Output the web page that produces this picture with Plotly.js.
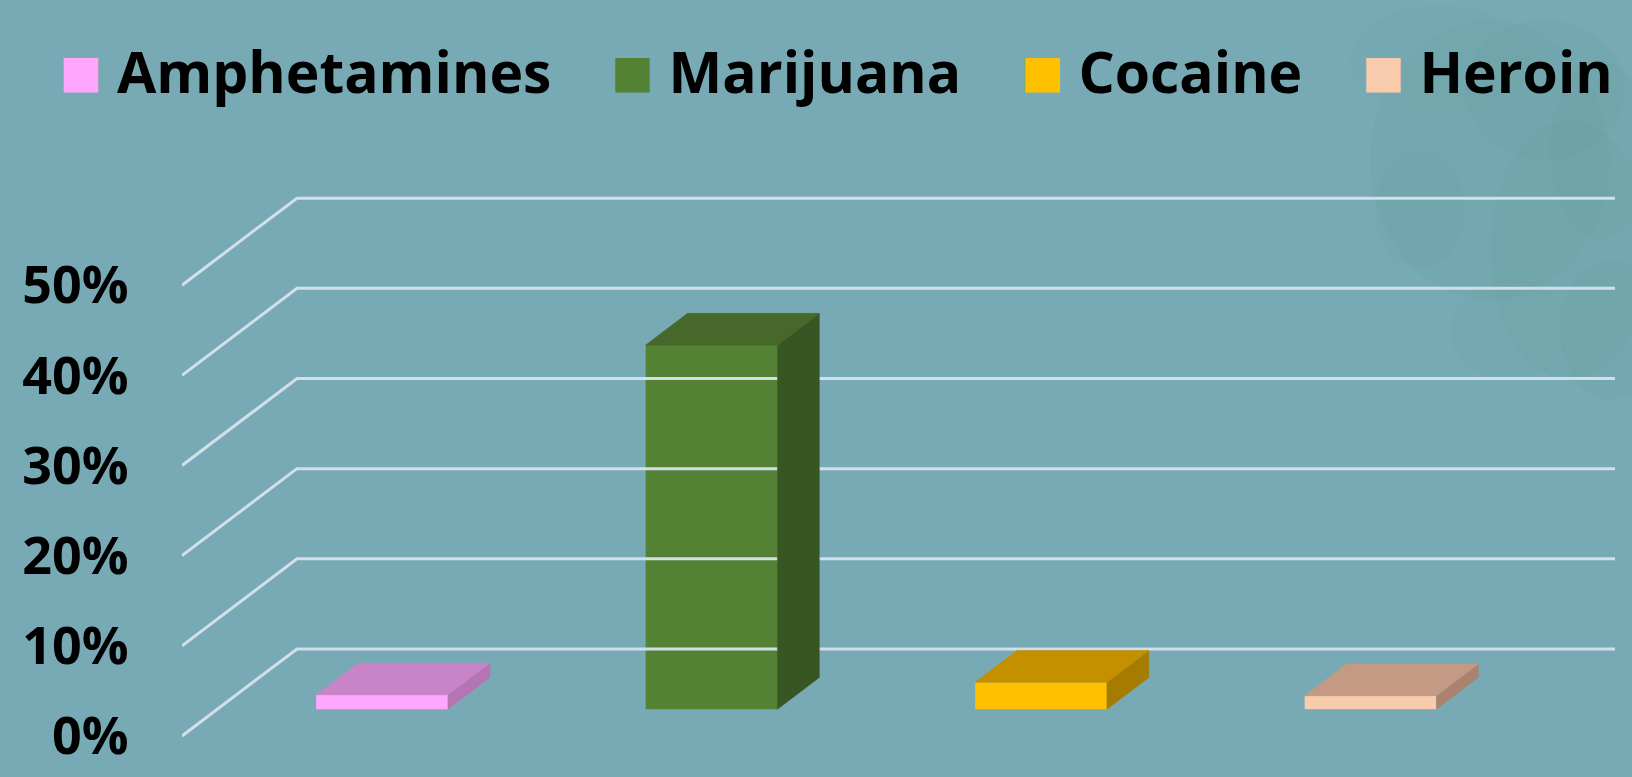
<!DOCTYPE html>
<html>
<head>
<meta charset="utf-8">
<script src="https://cdn.plot.ly/plotly-3.0.1.min.js"></script>
<style>
  html, body { margin: 0; padding: 0; background: #77AAB4; }
  #chart { width: 1632px; height: 777px; }
</style>
</head>
<body>
<div id="chart"></div>
<script>
// ---- data ----
const categories = ['Amphetamines', 'Marijuana', 'Cocaine', 'Heroin'];
const values = [1.6, 40.4, 3.0, 1.5];            // percent
const frontColors = ['#FFA6FF', '#548235', '#FFC000', '#F8CBAD'];
const topColors   = ['#C984C8', '#46692B', '#C49000', '#C49A84'];
const sideColors  = ['#B574B4', '#375623', '#A67C00', '#A9836F'];
const yTickVals = [0, 10, 20, 30, 40, 50];
const yTickLabels = ['0%', '10%', '20%', '30%', '40%', '50%'];

// ---- 3D projection settings (in axis units) ----
const DX = 0.349;      // depth offset along x (category units)
const DY = 9.65;       // depth offset along y (percent units)
const D0 = 0.307;      // bar front depth fraction
const DS = 0.364;      // bar depth fraction
const BARW = 0.4;      // bar width (category units)
const n = categories.length;

const W = 1632, H = 777;
const M = { l: 182, r: 0, t: 177, b: 5 };

const traces = [];

// grid (floor + back wall) lines
const gx = [], gy = [];
yTickVals.forEach(v => {
  gx.push(-0.5, -0.5 + DX, n - 0.5 + DX, null);
  gy.push(v, v + DY, v + DY, null);
});
traces.push({
  type: 'scatter', mode: 'lines', x: gx, y: gy,
  line: { color: '#D3DFE8', width: 3 },
  hoverinfo: 'skip', showlegend: false
});

categories.forEach((c, i) => {
  const xc = i + D0 * DX;
  const x0 = xc - BARW / 2, x1 = xc + BARW / 2;
  const b0 = D0 * DY;
  const top = b0 + values[i];
  const ox = DS * DX, oy = DS * DY;
  // side face
  traces.push({
    type: 'scatter', mode: 'lines', fill: 'toself',
    x: [x1, x1, x1 + ox, x1 + ox, x1],
    y: [b0, top, top + oy, b0 + oy, b0],
    fillcolor: sideColors[i], line: { color: sideColors[i], width: 0.5 },
    hoverinfo: 'skip', showlegend: false
  });
  // top face
  traces.push({
    type: 'scatter', mode: 'lines', fill: 'toself',
    x: [x0, x0 + ox, x1 + ox, x1, x0],
    y: [top, top + oy, top + oy, top, top],
    fillcolor: topColors[i], line: { color: topColors[i], width: 0.5 },
    hoverinfo: 'skip', showlegend: false
  });
  // front face
  traces.push({
    type: 'bar', x: [xc], y: [values[i]], base: [b0], width: [BARW],
    marker: { color: frontColors[i], line: { width: 0 } },
    name: c, showlegend: false, hoverinfo: 'skip'
  });
});

// legend entries
categories.forEach((c, i) => {
  traces.push({
    type: 'scatter', mode: 'none', x: [null], y: [null],
    name: '<span style="color:' + frontColors[i] + ';font-family:DejaVu Sans;font-size:45px;baseline-shift:6px">■</span> ' + c + (i < n - 1 ? '\u00a0' : ''),
    showlegend: true, hoverinfo: 'skip'
  });
});

// decorative background mottling (top right), given in page pixels
const pw = W - M.l - M.r, ph = H - M.t - M.b;
const px2x = p => (p - M.l) / pw;
const py2y = p => 1 - (p - M.t) / ph;
const blobSpec = [
  // cx, cy, rx, ry, opacity
  [1490, 160, 120, 140, 0.045], [1570, 250, 80, 130, 0.06],
  [1610, 330, 50, 70, 0.05],    [1440, 60, 90, 55, 0.035],
  [1545, 90, 80, 70, 0.05],     [1510, 330, 60, 50, 0.035],
  [1420, 210, 45, 60, 0.03],    [1600, 150, 50, 90, 0.05]
];
const blobs = blobSpec.map(b => ({
  type: 'circle', xref: 'paper', yref: 'paper', layer: 'below',
  x0: px2x(b[0] - b[2]), x1: px2x(b[0] + b[2]),
  y0: py2y(b[1] + b[3]), y1: py2y(b[1] - b[3]),
  fillcolor: '#4A8479', opacity: b[4], line: { width: 0 }
}));

const layout = {
  width: W, height: H,
  margin: M,
  paper_bgcolor: '#77AAB4', plot_bgcolor: 'rgba(0,0,0,0)',
  font: { family: 'Open Sans, DejaVu Sans, sans-serif', color: '#000000' },
  barmode: 'overlay',
  showlegend: true,
  legend: {
    orientation: 'h',
    x: -0.112, xanchor: 'left', y: 1.252, yanchor: 'top',
    font: { family: 'Open Sans', size: 57, color: '#000000', weight: 'bold' },
    bgcolor: 'rgba(0,0,0,0)', itemclick: false, itemdoubleclick: false
  },
  xaxis: {
    range: [-0.5, -0.5 + 1450 / 329.5], showgrid: false, zeroline: false, showline: false,
    showticklabels: false, ticks: '', fixedrange: true
  },
  yaxis: {
    range: [-4, 62], showgrid: false, zeroline: false, showline: false,
    tickmode: 'array', tickvals: yTickVals, ticktext: yTickLabels,
    ticks: 'outside', ticklen: 42, tickcolor: 'rgba(0,0,0,0)',
    tickfont: { family: 'Open Sans', size: 52, color: '#000000', weight: 'bold' },
    fixedrange: true
  },
  shapes: blobs,
  hovermode: false
};

Plotly.newPlot('chart', traces, layout, { displayModeBar: false, staticPlot: true });
</script>
</body>
</html>
